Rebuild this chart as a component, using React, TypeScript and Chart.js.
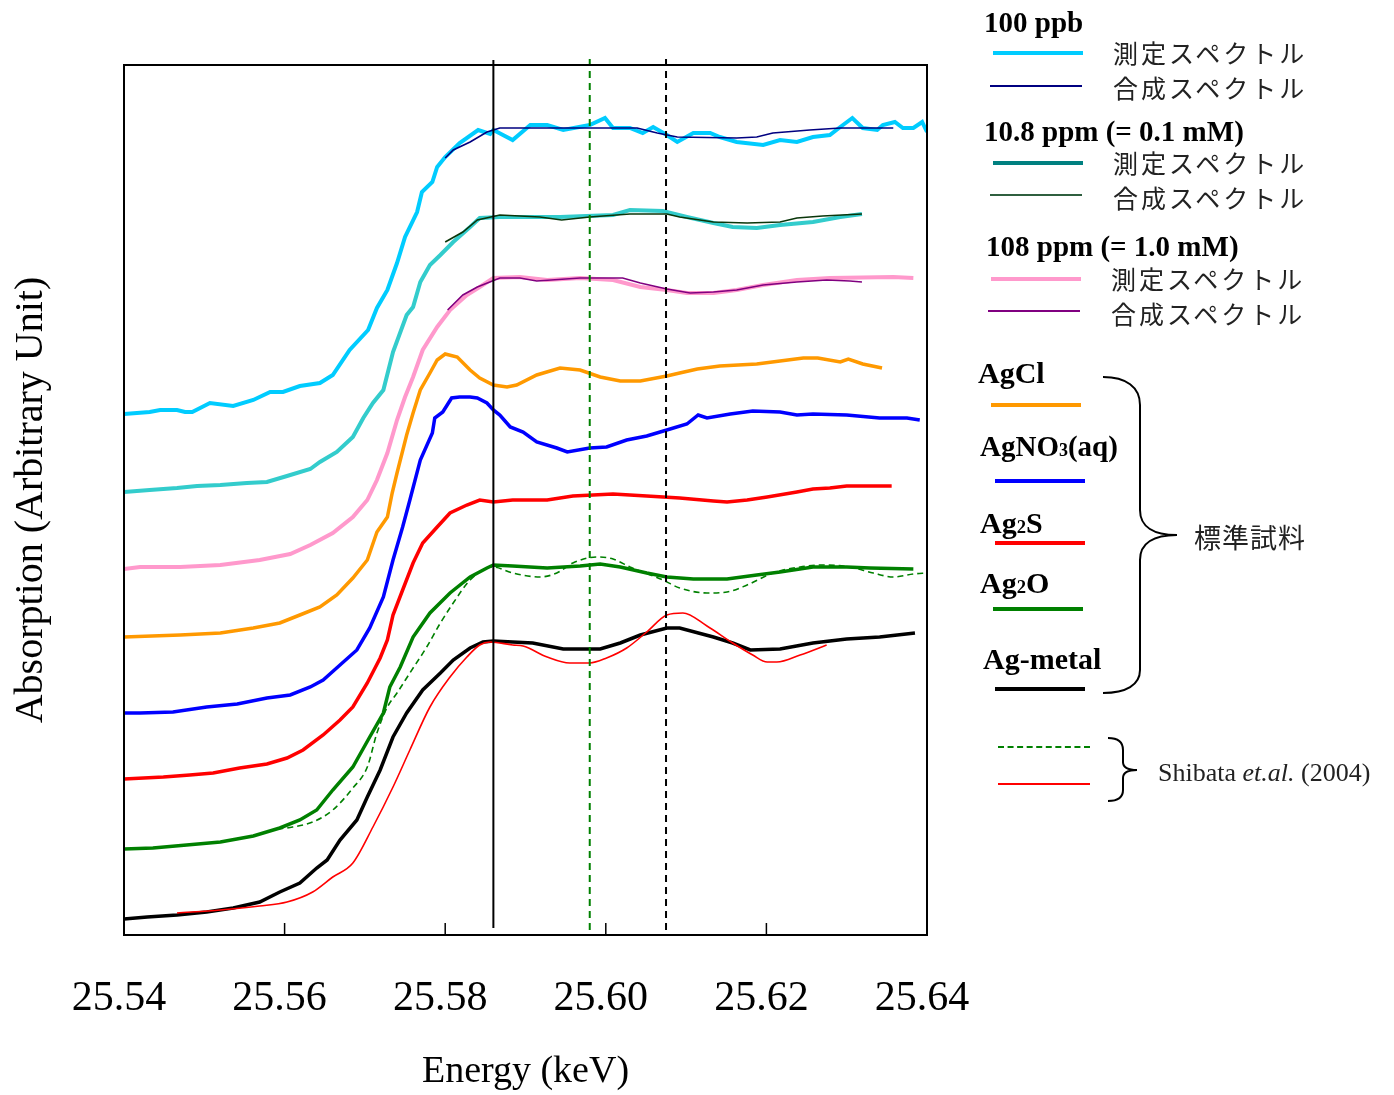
import React, { useEffect, useRef } from "react";
import { Chart, registerables } from "chart.js";

Chart.register(...registerables);

// ---------- axis ----------
const xMin = 25.54;
const xMax = 25.64;
const xTickValues = [25.54, 25.56, 25.58, 25.6, 25.62, 25.64];
const innerTickValues = [25.56, 25.58, 25.6, 25.62];
const yMin = 0;
const yMax = 870;

// ---------- reference energies (keV) ----------
const edgeLineEnergy = 25.586;
const ag2oPeakEnergy = 25.598;
const metalPeakEnergy = 25.6075;
const refSolidSpan = [7, 875];
const refGreenSpan = [5, 880];
const refBlackSpan = [5, 877];

// ---------- 100 ppb ----------
const ppb100MeasE = [25.54, 25.5432, 25.5445, 25.5466, 25.5476, 25.5485, 25.5507, 25.5536, 25.5561, 25.5582, 25.5598, 25.5619, 25.5644, 25.566, 25.5681, 25.5704, 25.5715, 25.5728, 25.574, 25.575, 25.5765, 25.5771, 25.5784, 25.579, 25.58, 25.5818, 25.5841, 25.5856, 25.586, 25.5884, 25.5906, 25.5927, 25.5947, 25.598, 25.5999, 25.6009, 25.603, 25.6046, 25.6059, 25.6076, 25.6089, 25.6109, 25.613, 25.6142, 25.6163, 25.6196, 25.6217, 25.6238, 25.6258, 25.6279, 25.6292, 25.6307, 25.632, 25.6338, 25.6345, 25.636, 25.637, 25.6383, 25.6394, 25.64];
const ppb100MeasA = [521, 523, 525, 525, 523, 523, 532, 529, 535, 543, 543, 549, 552, 560, 585, 605, 627, 645, 672, 698, 723, 743, 753, 768, 778, 792, 805, 801, 805, 795, 810, 810, 805, 810, 817, 807, 807, 802, 808, 800, 793, 802, 802, 798, 793, 790, 795, 793, 798, 800, 808, 817, 807, 805, 810, 813, 807, 807, 813, 803];
const ppb100SynE = [25.58, 25.581, 25.5831, 25.5852, 25.5868, 25.6039, 25.6064, 25.6089, 25.6163, 25.6188, 25.6208, 25.6254, 25.6292, 25.6358];
const ppb100SynA = [777, 785, 793, 803, 807, 807, 802, 798, 797, 798, 802, 805, 807, 807];

// ---------- 10.8 ppm ----------
const ppm10MeasE = [25.54, 25.5432, 25.5466, 25.5491, 25.552, 25.5553, 25.5578, 25.5603, 25.5632, 25.5644, 25.5665, 25.5685, 25.5698, 25.571, 25.5723, 25.5735, 25.5752, 25.576, 25.5769, 25.5781, 25.5794, 25.581, 25.5831, 25.5843, 25.5868, 25.5943, 25.6009, 25.603, 25.6071, 25.6101, 25.6134, 25.6158, 25.6188, 25.6217, 25.6258, 25.6292, 25.6319];
const ppm10MeasA = [443, 445, 447, 449, 450, 452, 453, 459, 466, 473, 483, 498, 517, 532, 545, 583, 620, 628, 653, 670, 680, 693, 708, 717, 718, 718, 720, 725, 724, 718, 712, 708, 707, 710, 713, 718, 721];
const ppm10SynE = [25.58, 25.5822, 25.584, 25.5868, 25.5918, 25.5945, 25.598, 25.603, 25.6076, 25.6092, 25.6134, 25.6176, 25.6217, 25.6238, 25.627, 25.6319];
const ppm10SynA = [693, 703, 715, 720, 718, 715, 718, 721, 721, 718, 713, 712, 713, 717, 719, 721];

// ---------- 108 ppm ----------
const ppm108MeasE = [25.54, 25.542, 25.547, 25.552, 25.5569, 25.5607, 25.5632, 25.566, 25.5685, 25.5703, 25.5715, 25.5728, 25.574, 25.575, 25.576, 25.5772, 25.579, 25.5806, 25.5827, 25.5843, 25.586, 25.5893, 25.5927, 25.5968, 25.6009, 25.6043, 25.6076, 25.6101, 25.6134, 25.6163, 25.6196, 25.6238, 25.6279, 25.6358, 25.6383];
const ppm108MeasA = [366, 368, 368, 370, 375, 381, 390, 402, 418, 435, 455, 482, 515, 538, 558, 585, 608, 625, 640, 648, 657, 658, 655, 657, 655, 648, 645, 642, 642, 645, 650, 655, 657, 658, 657];
const ppm108SynE = [25.5803, 25.5822, 25.584, 25.5868, 25.5893, 25.5914, 25.5968, 25.6021, 25.6043, 25.6076, 25.6105, 25.6134, 25.6163, 25.6196, 25.6238, 25.6275, 25.6304, 25.6319];
const ppm108SynA = [625, 640, 648, 657, 657, 654, 657, 657, 652, 646, 642, 643, 645, 650, 653, 655, 654, 653];

// ---------- standards ----------
const agclE = [25.54, 25.547, 25.552, 25.5561, 25.5594, 25.5619, 25.5644, 25.5665, 25.5685, 25.5703, 25.5715, 25.5728, 25.5734, 25.574, 25.5752, 25.576, 25.5769, 25.5781, 25.579, 25.58, 25.5815, 25.5831, 25.5843, 25.586, 25.5877, 25.5889, 25.5914, 25.5943, 25.5968, 25.5993, 25.6018, 25.6043, 25.6076, 25.6092, 25.6114, 25.6142, 25.6188, 25.6217, 25.6246, 25.6264, 25.6292, 25.6302, 25.632, 25.6344];
const agclA = [298, 300, 302, 307, 312, 320, 328, 340, 357, 375, 403, 418, 442, 462, 500, 522, 545, 562, 575, 581, 578, 565, 557, 550, 548, 550, 560, 567, 565, 558, 554, 554, 559, 562, 566, 569, 571, 574, 577, 577, 573, 576, 571, 567];

const agno3E = [25.54, 25.542, 25.5461, 25.5503, 25.5541, 25.5578, 25.5607, 25.5632, 25.5648, 25.5669, 25.569, 25.5706, 25.5723, 25.5735, 25.5747, 25.5756, 25.5769, 25.5784, 25.5787, 25.5797, 25.5808, 25.5818, 25.5831, 25.584, 25.5852, 25.586, 25.5868, 25.5881, 25.5897, 25.5914, 25.5939, 25.5952, 25.598, 25.6001, 25.6026, 25.6051, 25.6076, 25.6101, 25.6115, 25.6126, 25.6155, 25.6183, 25.6217, 25.6238, 25.6258, 25.63, 25.6341, 25.6375, 25.6391];
const agno3A = [222, 222, 223, 228, 231, 237, 240, 248, 255, 270, 285, 307, 338, 375, 408, 435, 475, 502, 517, 523, 537, 538, 538, 537, 532, 525, 520, 508, 503, 493, 487, 483, 487, 488, 495, 499, 505, 511, 520, 517, 521, 524, 523, 520, 521, 520, 517, 517, 515];

const ag2sE = [25.54, 25.5449, 25.5482, 25.5511, 25.5544, 25.5578, 25.5603, 25.5623, 25.5648, 25.5669, 25.5685, 25.5703, 25.5719, 25.5728, 25.5735, 25.5747, 25.576, 25.5772, 25.579, 25.5806, 25.5827, 25.5843, 25.586, 25.5884, 25.5927, 25.5959, 25.6009, 25.6051, 25.6092, 25.6134, 25.6151, 25.6176, 25.6201, 25.6238, 25.6258, 25.6279, 25.63, 25.6356];
const ag2sA = [156, 158, 160, 162, 167, 171, 177, 185, 200, 215, 228, 252, 277, 295, 320, 345, 372, 392, 408, 422, 430, 435, 433, 435, 435, 439, 441, 439, 437, 434, 433, 435, 438, 443, 446, 447, 449, 449];

const ag2oE = [25.54, 25.5436, 25.5478, 25.552, 25.5561, 25.5594, 25.5619, 25.564, 25.566, 25.5685, 25.5706, 25.5723, 25.5731, 25.5744, 25.576, 25.5781, 25.5806, 25.5831, 25.5852, 25.586, 25.5884, 25.5927, 25.5968, 25.5993, 25.6018, 25.6051, 25.6076, 25.6109, 25.6151, 25.6188, 25.6217, 25.6258, 25.63, 25.6329, 25.6383];
const ag2oA = [86, 87, 90, 93, 99, 107, 115, 125, 145, 168, 198, 222, 248, 268, 298, 322, 342, 358, 367, 370, 369, 367, 369, 371, 368, 362, 358, 356, 356, 360, 363, 368, 368, 367, 366];

const agMetalE = [25.54, 25.5429, 25.5466, 25.5503, 25.5536, 25.5569, 25.5594, 25.5619, 25.564, 25.5653, 25.5669, 25.569, 25.5703, 25.5719, 25.5735, 25.5752, 25.5772, 25.5794, 25.581, 25.5831, 25.5847, 25.586, 25.5884, 25.5909, 25.5947, 25.5993, 25.6018, 25.6043, 25.6076, 25.6092, 25.6134, 25.6158, 25.618, 25.6217, 25.6258, 25.63, 25.6341, 25.6385];
const agMetalA = [16, 18, 20, 23, 27, 33, 43, 52, 67, 75, 95, 115, 138, 165, 198, 222, 245, 262, 275, 287, 293, 294, 293, 292, 286, 286, 292, 300, 307, 307, 298, 292, 285, 286, 292, 296, 298, 302];

// ---------- Shibata et al. (2004) ----------
const shibataAg2oE = [25.5591, 25.561, 25.5635, 25.566, 25.5685, 25.5703, 25.5715, 25.5728, 25.574, 25.5756, 25.5777, 25.5794, 25.581, 25.5831, 25.5852, 25.586, 25.5884, 25.5918, 25.5939, 25.5959, 25.5989, 25.6009, 25.603, 25.6071, 25.6092, 25.6126, 25.6151, 25.6176, 25.6208, 25.6242, 25.627, 25.6304, 25.6333, 25.6358, 25.6383, 25.64];
const shibataAg2oA = [106, 108, 113, 125, 147, 168, 202, 228, 242, 262, 288, 312, 332, 355, 367, 368, 362, 358, 362, 372, 378, 376, 368, 355, 347, 342, 343, 350, 362, 368, 370, 368, 362, 358, 361, 362];
const shibataMetalE = [25.5466, 25.552, 25.5569, 25.5603, 25.5635, 25.566, 25.5685, 25.571, 25.5735, 25.5756, 25.5781, 25.5806, 25.5827, 25.5843, 25.5856, 25.5884, 25.5897, 25.5927, 25.5955, 25.598, 25.6001, 25.6026, 25.6051, 25.6076, 25.6096, 25.6126, 25.6158, 25.6183, 25.6201, 25.6213, 25.6242, 25.6275];
const shibataMetalA = [22, 25, 29, 33, 43, 58, 72, 108, 148, 185, 228, 258, 278, 290, 293, 290, 289, 278, 272, 272, 277, 287, 303, 320, 322, 309, 292, 280, 273, 273, 280, 290];

const SERIF = "'Liberation Serif', 'Times New Roman', serif";
const CJK = "'Noto Sans CJK JP', sans-serif";

const zip = (e: number[], a: number[]) => e.slice(0, Math.min(e.length, a.length)).map((x, i) => ({ x, y: a[i] }));

function line(label: string, e: number[], a: number[], color: string, width: number, extra: any = {}) {
  return {
    label,
    data: zip(e, a),
    borderColor: color,
    backgroundColor: color,
    borderWidth: width,
    pointRadius: 0,
    pointHoverRadius: 0,
    fill: false,
    tension: 0,
    ...extra,
  };
}

const framePlugin = {
  id: "frame",
  afterDatasetsDraw(chart: any) {
    const { ctx, chartArea, scales } = chart;
    const { left, top, right, bottom } = chartArea;
    ctx.save();
    ctx.strokeStyle = "#000";
    ctx.lineWidth = 2;
    ctx.strokeRect(left, top, right - left, bottom - top);
    ctx.lineWidth = 1.5;
    innerTickValues.forEach((v) => {
      const px = scales.x.getPixelForValue(v);
      ctx.beginPath();
      ctx.moveTo(px, bottom);
      ctx.lineTo(px, bottom - 12);
      ctx.stroke();
    });
    ctx.restore();
  },
};

const Legend: React.FC = () => {
  const head = (text: React.ReactNode, x: number, y: number, size = 29) => (
    <div style={{ position: "absolute", left: x, top: y, transform: "translateY(-50%)", fontFamily: SERIF, fontWeight: "bold", fontSize: size, lineHeight: 1.15, color: "#000", whiteSpace: "nowrap" }}>{text}</div>
  );
  const jp = (text: string, x: number, y: number) => (
    <div style={{ position: "absolute", left: x, top: y, transform: "translateY(-50%)", fontFamily: CJK, fontSize: 25, letterSpacing: 3, lineHeight: 1.15, color: "#222", whiteSpace: "nowrap" }}>{text}</div>
  );
  const bar = (x1: number, x2: number, y: number, color: string, w: number, dashed = false) => (
    <div style={{ position: "absolute", left: x1, top: y - w / 2, width: x2 - x1, height: 0, borderTop: `${w}px ${dashed ? "dashed" : "solid"} ${color}` }} />
  );
  const sub = (t: string) => <span style={{ fontSize: "0.62em" }}>{t}</span>;
  return (
    <>
      {head("100 ppb", 984, 23)}
      {bar(993, 1083, 53, "#00CCFF", 4)}
      {jp("測定スペクトル", 1113, 52)}
      {bar(990, 1082, 86, "#000080", 2)}
      {jp("合成スペクトル", 1113, 87)}

      {head("10.8 ppm (= 0.1 mM)", 984, 132)}
      {bar(993, 1083, 163, "#008080", 4)}
      {jp("測定スペクトル", 1113, 162)}
      {bar(990, 1082, 195, "#2F5F3F", 2)}
      {jp("合成スペクトル", 1113, 197)}

      {head("108 ppm (= 1.0 mM)", 986, 247)}
      {bar(991, 1081, 279, "#FF99CC", 4)}
      {jp("測定スペクトル", 1111, 278)}
      {bar(988, 1080, 311, "#800080", 2)}
      {jp("合成スペクトル", 1111, 313)}

      {head("AgCl", 978, 373, 30)}
      {bar(991, 1081, 405, "#FF9900", 4)}
      {head(<>AgNO{sub("3")}(aq)</>, 980, 447, 29)}
      {bar(995, 1085, 481, "#0000FF", 4)}
      {head(<>Ag{sub("2")}S</>, 980, 523, 30)}
      {bar(995, 1085, 543, "#FF0000", 4)}
      {head(<>Ag{sub("2")}O</>, 980, 583, 30)}
      {bar(993, 1083, 609, "#008000", 4)}
      {head("Ag-metal", 983, 659, 30)}
      {bar(995, 1085, 689, "#000000", 4)}

      <div style={{ position: "absolute", left: 1194, top: 537, transform: "translateY(-50%)", fontFamily: CJK, fontSize: 27, letterSpacing: 1, lineHeight: 1.15, color: "#222", whiteSpace: "nowrap" }}>標準試料</div>

      {bar(998, 1090, 747, "#008000", 2, true)}
      {bar(998, 1090, 784, "#FF0000", 2)}
      <div style={{ position: "absolute", left: 1158, top: 773, transform: "translateY(-50%)", fontFamily: SERIF, fontSize: 26, lineHeight: 1.15, color: "#222", whiteSpace: "nowrap" }}>
        Shibata <i>et.al.</i> (2004)
      </div>

      <svg width={1394} height={1095} style={{ position: "absolute", left: 0, top: 0, pointerEvents: "none" }}>
        <path d="M1103,377 C1126,377 1140,387 1140,405 L1140,510 C1140,527 1154,535 1177,535 C1154,535 1140,543 1140,560 L1140,670 C1140,685 1126,693 1103,693" fill="none" stroke="#000" strokeWidth={2} />
        <path d="M1108,738 C1118,738 1123,742 1123,750 L1123,762 C1123,767 1128,770 1137,770 C1128,770 1123,773 1123,778 L1123,790 C1123,797 1118,801 1108,801" fill="none" stroke="#000" strokeWidth={2} />
      </svg>
    </>
  );
};

export default function App() {
  const canvasRef = useRef<HTMLCanvasElement | null>(null);

  useEffect(() => {
    if (!canvasRef.current) return;
    const vline = (label: string, e: number, span: number[], color: string, dash: number[] | undefined) =>
      line(label, [e, e], span, color, 2, { borderDash: dash || [], clip: false });

    const datasets: any[] = [
      vline("edge", edgeLineEnergy, refSolidSpan, "#000000", undefined),
      vline("Ag2O peak", ag2oPeakEnergy, refGreenSpan, "#008000", [7, 5]),
      vline("metal peak", metalPeakEnergy, refBlackSpan, "#000000", [7, 5]),
      line("100 ppb 合成", ppb100SynE, ppb100SynA, "#000080", 1.6),
      line("10.8 ppm 合成", ppm10SynE, ppm10SynA, "#0A360A", 1.6),
      line("108 ppm 合成", ppm108SynE, ppm108SynA, "#800080", 1.6),
      line("Shibata Ag-metal", shibataMetalE, shibataMetalA, "#FF0000", 1.6, { cubicInterpolationMode: "monotone" }),
      line("Shibata Ag2O", shibataAg2oE, shibataAg2oA, "#008000", 1.6, { borderDash: [6, 4], cubicInterpolationMode: "monotone" }),
      line("100 ppb 測定", ppb100MeasE, ppb100MeasA, "#00CCFF", 4),
      line("10.8 ppm 測定", ppm10MeasE, ppm10MeasA, "#33CCCC", 4),
      line("108 ppm 測定", ppm108MeasE, ppm108MeasA, "#FF99CC", 4),
      line("AgCl", agclE, agclA, "#FF9900", 3.5),
      line("AgNO3(aq)", agno3E, agno3A, "#0000FF", 3.5),
      line("Ag2S", ag2sE, ag2sA, "#FF0000", 3.5),
      line("Ag2O", ag2oE, ag2oA, "#008000", 3.5),
      line("Ag-metal", agMetalE, agMetalA, "#000000", 3.5),
    ];

    const chart = new Chart(canvasRef.current, {
      type: "line",
      data: { datasets },
      plugins: [framePlugin],
      options: {
        animation: false,
        responsive: false,
        maintainAspectRatio: false,
        events: [],
        layout: { padding: { left: 0, right: 467, top: 65, bottom: 0 } },
        plugins: { legend: { display: false }, tooltip: { enabled: false } },
        scales: {
          x: {
            type: "linear",
            min: xMin,
            max: xMax,
            grid: { display: false, drawTicks: false },
            border: { display: false },
            afterBuildTicks: (s: any) => {
              s.ticks = xTickValues.map((v) => ({ value: v }));
            },
            afterFit: (s: any) => {
              s.height = 160;
            },
            ticks: {
              padding: 39,
              labelOffset: -5,
              color: "#000",
              autoSkip: false,
              maxRotation: 0,
              font: { family: SERIF, size: 42 },
              callback: (v: any) => Number(v).toFixed(2),
            },
            title: {
              display: true,
              text: "Energy (keV)",
              color: "#000",
              font: { family: SERIF, size: 38 },
              padding: { top: 0, bottom: 0 },
            },
          },
          y: {
            type: "linear",
            min: yMin,
            max: yMax,
            grid: { display: false, drawTicks: false },
            border: { display: false },
            ticks: { display: false },
            afterFit: (s: any) => {
              s.width = 124;
            },
            title: {
              display: true,
              text: "Absorption (Arbitrary Unit)",
              color: "#000",
              font: { family: SERIF, size: 40 },
              padding: { top: 7, bottom: 0 },
            },
          },
        },
      } as any,
    });
    return () => chart.destroy();
  }, []);

  return (
    <div style={{ position: "absolute", left: 0, top: 0, width: 1394, height: 1095, background: "#fff", overflow: "hidden" }}>
      <canvas ref={canvasRef} width={1394} height={1095} style={{ position: "absolute", left: 0, top: 0, display: "block" }} />
      <Legend />
    </div>
  );
}
